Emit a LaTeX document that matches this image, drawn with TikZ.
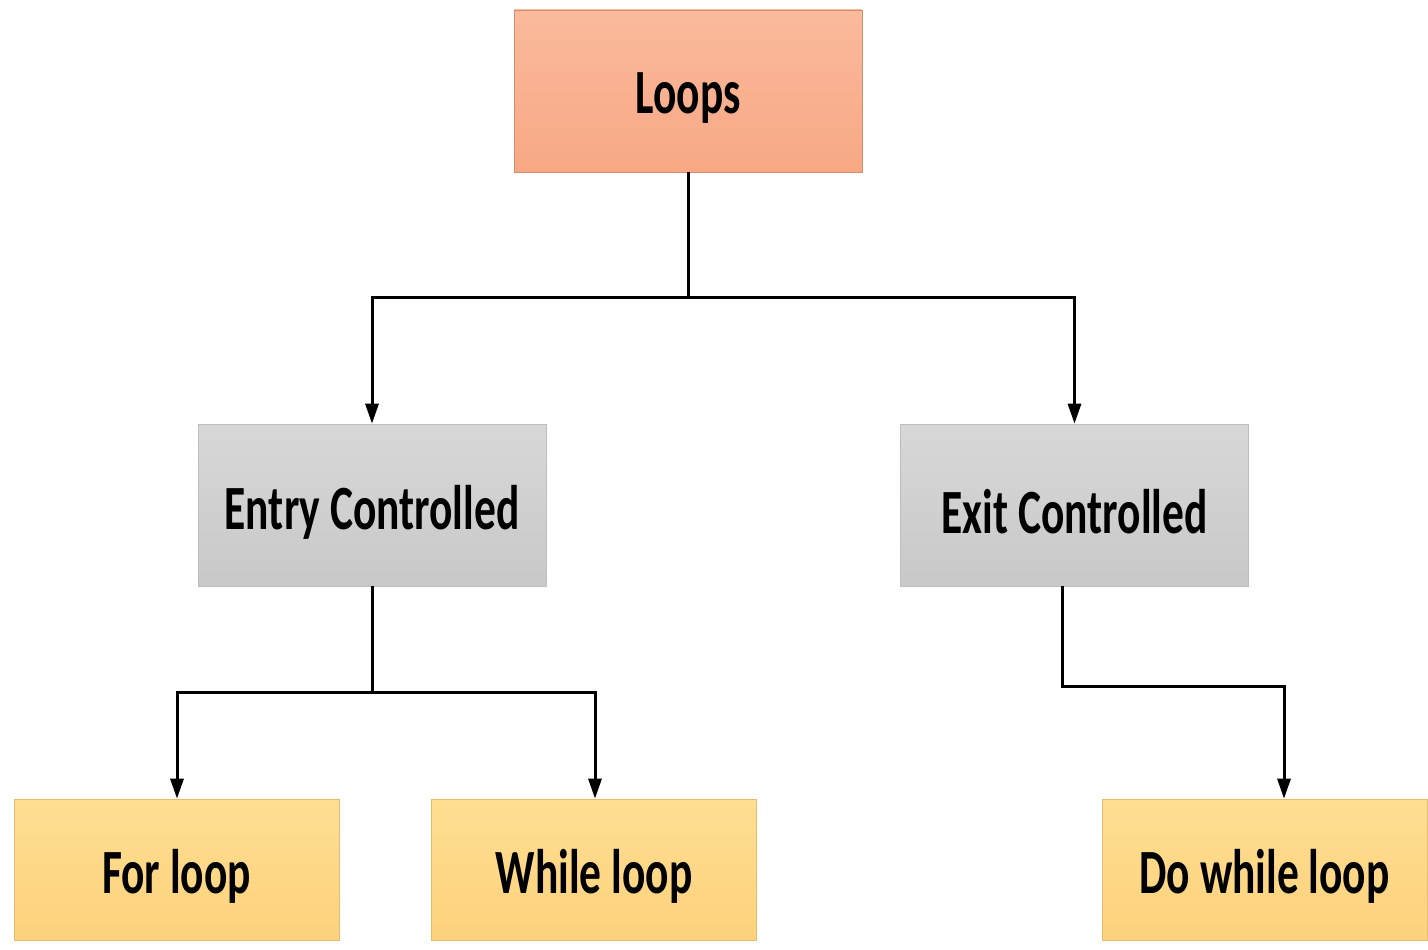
\documentclass[tikz,border=0pt]{standalone}
\usepackage{fontspec}
\setmainfont{Carlito}
\usepackage{graphicx}
\usetikzlibrary{arrows.meta}
\definecolor{salmonTop}{RGB}{250,186,156}
\definecolor{salmonBot}{RGB}{247,168,132}
\definecolor{greyTop}{RGB}{216,216,216}
\definecolor{greyBot}{RGB}{200,200,200}
\definecolor{goldTop}{RGB}{255,222,146}
\definecolor{goldBot}{RGB}{253,210,124}
\definecolor{edge}{RGB}{190,190,190}
\tikzset{
  box/.style={rectangle, inner sep=0pt, draw=edge, line width=0.6pt,
    minimum width=348pt, minimum height=162pt,
    font=\fontsize{63}{72}\selectfont\bfseries},
  rootbox/.style={box, top color=salmonTop, bottom color=salmonBot, draw=salmonBot!85!black},
  midbox/.style={box, top color=greyTop, bottom color=greyBot},
  leafbox/.style={box, top color=goldTop, bottom color=goldBot, draw=goldBot!90!black,
    minimum width=325pt, minimum height=141pt},
  link/.style={line width=3pt, black},
  arrowlink/.style={link, -{Triangle[length=20pt,width=13pt]}}
}
% narrow the label and drop it slightly, keeping the node's own size
\newcommand{\squeeze}[1]{\raisebox{-7pt}[\height][\depth]{\scalebox{0.69}[1]{#1}}}
\begin{document}
\begin{tikzpicture}[x=1pt,y=-1pt]
  \useasboundingbox (0,0) rectangle (1428,950);
  \fill[white] (0,0) rectangle (1428,950);

  % boxes
  \node[rootbox] (loops) at (688,91) {\squeeze{Loops}};
  \node[midbox] (entry) at (372,505) {\squeeze{Entry Controlled}};
  \node[midbox] (exit) at (1074.5,505) {\squeeze{Exit Controlled}};
  \node[leafbox] (for) at (176.5,869.5) {\squeeze{For loop}};
  \node[leafbox] (while) at (594,869.5) {\squeeze{While loop}};
  \node[leafbox] (dowhile) at (1264.5,869.5) {\squeeze{Do while loop}};

  % branch points
  \coordinate (split1) at (688,297);
  \coordinate (split2) at (372,692);

  % connectors
  \draw[link] (loops.south) -- (split1);
  \draw[arrowlink] (split1) -| (entry.north);
  \draw[arrowlink] (split1) -| (exit.north);
  \draw[link] (entry.south) -- (split2);
  \draw[arrowlink] (split2) -| ([xshift=0.5pt]for.north);
  \draw[arrowlink] (split2) -| ([xshift=1pt]while.north);
  \draw[arrowlink] ([xshift=-12.5pt]exit.south) -- ++(0,100) -| ([xshift=19.5pt]dowhile.north);
\end{tikzpicture}
\end{document}
